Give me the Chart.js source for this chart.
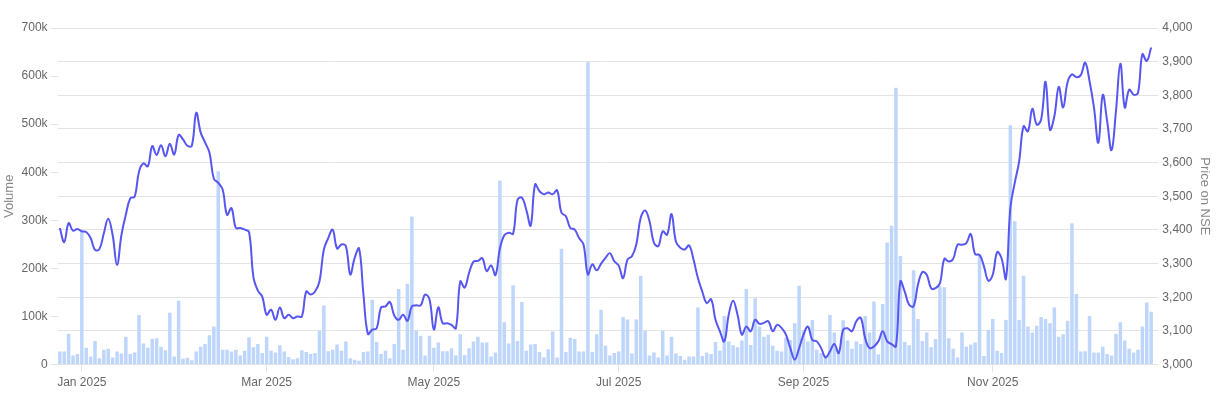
<!DOCTYPE html>
<html>
<head>
<meta charset="utf-8">
<script src="https://cdn.jsdelivr.net/npm/chart.js@4.4.1/dist/chart.umd.min.js"></script>
<style>
	html, body { margin: 0; padding: 0; background: #fff; }
	#wrap { width: 1216px; height: 396px; }
</style>
</head>
<body>
<div id="wrap"><canvas id="mycanvas" width="1216" height="396"></canvas></div>
<script>
// daily volume, in thousands of shares
var volumeK = [
	27,27,64,19,22,
	277,
	35,17,49,13,31,33,15,27,23,58,
	22,25,103,44,35,54,55,37,30,108,
	17,133,12,14,9,27,37,43,61,79,
	402,
	31,31,27,31,19,29,57,36,43,24,
	58,
	29,25,40,27,16,11,13,30,26,22,24,70,123,
	28,31,42,29,48,13,10,8,26,27,135,47,22,29,13,43,157,31,168,308,
	71,60,19,60,35,46,28,28,34,19,63,20,34,48,58,46,46,17,25,383,
	88,44,165,49,130,29,42,43,26,15,32,69,15,241,
	26,56,53,27,27,629,
	26,63,114,39,19,24,27,99,94,23,94,185,
	70,19,25,15,70,19,58,23,18,10,17,17,119,18,25,22,47,29,101,48,40,36,50,
	157,41,138,79,58,62,39,29,27,56,51,86,164,
	72,48,93,31,24,19,103,67,24,92,50,33,48,43,101,67,131,21,126,254,289,576,
	226,47,40,196,95,49,67,36,53,163,161,55,33,15,67,37,42,46,228,18,72,95,29,24,93,498,
	298,93,185,79,67,81,99,95,86,119,58,63,91,294,147,27,28,101,25,25,37,22,19,64,88,50,33,25,31,79,129,110
];

// closing price on NSE
var price = [
	3406,3364,3420,3398,3403,3396,3394,3376,3341,3343,
	3390,3433,3385,3296,3385,3445,3494,3499,3574,3598,
	3589,3649,3623,3652,3619,3656,3624,3682,3669,3650,
	3650,3748,3690,3660,3630,3552,3540,3520,3445,3465,
	3406,3406,3401,3394,3260,3220,3202,3148,3163,3133,
	3170,3138,3148,3138,3143,3143,3217,3208,3217,3247,
	3342,3376,3401,3345,3357,3352,3268,3317,3345,3208,
	3091,3104,3108,3170,3173,3186,3146,3133,3148,3130,
	3173,3176,3176,3208,3194,3104,3170,3123,3123,3118,
	3108,3247,3229,3273,3306,3308,3316,3278,3295,3266,
	3344,3384,3392,3389,3489,3496,3460,3413,3535,3515,
	3506,3511,3506,3518,3451,3441,3406,3401,3376,3357,
	3268,3298,3280,3300,3317,3331,3307,3294,3257,3312,
	3322,3357,3436,3458,3426,3362,3352,3396,3386,3447,
	3366,3347,3342,3354,3312,3257,3217,3183,3194,3133,
	3099,3069,3148,3190,3148,3089,3113,3099,3133,3121,
	3124,3129,3099,3118,3109,3089,3049,3015,3049,3089,
	3113,3073,3069,3049,3021,3039,3061,3034,3103,3108,
	3099,3129,3139,3079,3049,3054,3069,3099,3069,3061,
	3054,3247,3217,3178,3173,3237,3275,3267,3227,3227,
	3242,3314,3306,3314,3356,3356,3361,3388,3328,3326,
	3292,3249,3267,3334,3316,3255,3465,3540,3604,3708,
	3693,3760,3713,3728,3840,3698,3738,3825,3764,3839,
	3862,3854,3860,3897,3842,3764,3659,3801,3723,3637,
	3753,3894,3764,3817,3802,3807,3922,3902,3942
];

// trading calendar
var firstDay = '2024-12-24';
var holidays = ['2024-12-25','2025-02-26','2025-03-14','2025-03-31','2025-04-10','2025-04-14',
	'2025-04-18','2025-05-01','2025-08-15','2025-08-27','2025-10-02','2025-10-22','2025-11-05','2025-12-25'];
var monthNames = ['Jan','Feb','Mar','Apr','May','Jun','Jul','Aug','Sep','Oct','Nov','Dec'];
var labelMonths = [0, 2, 4, 6, 8, 10];

var dates = [];
var d = new Date(firstDay + 'T00:00:00Z');
while (dates.length < volumeK.length) {
	var iso = d.toISOString().slice(0, 10);
	var wd = d.getUTCDay();
	if (wd !== 0 && wd !== 6 && holidays.indexOf(iso) === -1) dates.push(iso);
	d.setUTCDate(d.getUTCDate() + 1);
}

// first trading day of every second month gets a tick
var tickIdx = [];
var tickText = {};
for (var i = 1; i < dates.length; i++) {
	var m = +dates[i].slice(5, 7) - 1;
	var pm = +dates[i - 1].slice(5, 7) - 1;
	if (m !== pm && labelMonths.indexOf(m) !== -1) {
		tickIdx.push(i);
		tickText[i] = monthNames[m] + ' ' + dates[i].slice(0, 4);
	}
}

Chart.defaults.font.family = '"Liberation Sans", Arial, sans-serif';
Chart.defaults.font.size = 12;
Chart.defaults.color = '#666';

var gridColor = '#e3e3e3';

var ctx = document.getElementById('mycanvas');
var chart = new Chart(ctx, {
	type: 'bar',
	data: {
		labels: dates,
		datasets: [
			{
				type: 'line',
				label: 'Price',
				data: price,
				yAxisID: 'y1',
				borderColor: 'rgb(88, 86, 240)',
				borderWidth: 2,
				pointRadius: 0,
				tension: 0.4,
				fill: false,
				order: 0
			},
			{
				type: 'bar',
				label: 'Volume',
				data: volumeK,
				yAxisID: 'y',
				backgroundColor: 'rgb(191, 214, 252)',
				barPercentage: 0.8,
				categoryPercentage: 1.0,
				order: 1
			}
		]
	},
	options: {
		responsive: false,
		animation: false,
		layout: { padding: { top: 28, right: 2, left: 0, bottom: 2 } },
		plugins: {
			legend: { display: false },
			tooltip: { enabled: false }
		},
		scales: {
			x: {
				offset: true,
				grid: { offset: false, drawOnChartArea: false, color: gridColor, tickLength: 7 },
				border: { display: false },
				afterBuildTicks: function(axis) {
					axis.ticks = tickIdx.map(function(v) { return { value: v }; });
				},
				ticks: {
					autoSkip: false,
					maxRotation: 0,
					padding: 4,
					callback: function(value) { return tickText[value] || ''; }
				}
			},
			y: {
				position: 'left',
				min: 0,
				max: 700,
				border: { display: false },
				grid: { drawOnChartArea: false, color: gridColor, tickLength: 7 },
				ticks: {
					stepSize: 100,
					padding: 3,
					callback: function(v) { return v === 0 ? '0' : v + 'k'; }
				},
				title: { display: true, text: 'Volume', color: '#888', font: { size: 13 }, padding: { top: 2, bottom: 1 } }
			},
			y1: {
				position: 'right',
				min: 3000,
				max: 4000,
				border: { display: false },
				grid: { color: gridColor, tickLength: 5 },
				ticks: {
					stepSize: 100,
					padding: 4,
					callback: function(v) { return v.toLocaleString('en-US'); }
				},
				title: { display: true, text: 'Price on NSE', color: '#888', font: { size: 13 }, padding: { top: 2, bottom: 0 } }
			}
		}
	}
});
</script>
</body>
</html>
